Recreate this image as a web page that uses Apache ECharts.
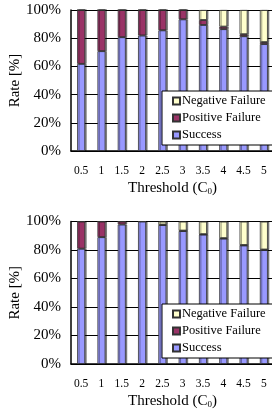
<!DOCTYPE html>
<html><head><meta charset="utf-8">
<script src="https://cdn.jsdelivr.net/npm/echarts@6/dist/echarts.min.js"></script>
<style>html,body{margin:0;padding:0;background:#fff}#c{width:272px;height:412px}</style>
</head><body><div id="c"></div>
<script>
const categories = ['0.5','1','1.5','2','2.5','3','3.5','4','4.5','5'];
const yTicks = ['0%','20%','40%','60%','80%','100%'];
// Top chart
const topSuccess = [61.8, 70.8, 80.7, 81.9, 85.6, 93.4, 89.4, 86.4, 81.4, 75.8];
const topPositive = [38.2, 29.2, 19.3, 18.1, 14.4, 6.6, 3.5, 1.8, 1.4, 1.4];
const topNegative = [0, 0, 0, 0, 0, 0, 7.1, 11.8, 17.2, 22.8];
// Bottom chart
const botSuccess = [80.9, 89.0, 97.9, 100, 97.5, 93.3, 90.8, 88.0, 83.2, 80.0];
const botPositive = [19.1, 11.0, 2.1, 0, 0.3, 0.3, 0.3, 0.3, 0.3, 0.3];
const botNegative = [0, 0, 0, 0, 2.2, 6.4, 8.9, 11.7, 16.5, 19.7];

const names = ['Success','Positive Failure','Negative Failure'];
const colors = ['#9999FF','#993366','#FFFFCC'];
const font = 'Liberation Serif';

const chart = echarts.init(document.getElementById('c'));
const grids = [
  {left:71, top:10, width:203, height:141, containLabel:false, outerBoundsMode:'none'},
  {left:71, top:221.5, width:203, height:142.5, containLabel:false, outerBoundsMode:'none'}
];
function xAx(i){return {type:'category', gridIndex:i, data:categories,
  name:'Threshold (C{s|0})', nameLocation:'middle', nameGap:29, nameMoveOverlap:false,
  nameTextStyle:{fontFamily:font, fontSize:15, color:'#000', rich:{s:{fontFamily:font,fontSize:9,verticalAlign:'bottom',padding:[7,0,0,0],color:'#000'}}},
  axisLine:{lineStyle:{color:'#000',width:1.5}},
  axisTick:{inside:true, length:3, lineStyle:{color:'#000'}},
  axisLabel:{fontFamily:font, fontSize:11.5, color:'#000', margin:14, interval:0, hideOverlap:false}};}
function yAx(i){return {type:'value', gridIndex:i, min:0, max:100, interval:20,
  name:'Rate [%]', nameLocation:'middle', nameGap:48, nameRotate:90, nameMoveOverlap:false,
  nameTextStyle:{fontFamily:font, fontSize:15, color:'#000'},
  axisLine:{show:true, lineStyle:{color:'#000',width:1.5}},
  axisTick:{show:false},
  splitLine:{lineStyle:{color:'#000',width:1}},
  axisLabel:{fontFamily:font, fontSize:15, color:'#000', margin:10,
    formatter:(v)=>yTicks[Math.round(v/20)]}};}
const data = [[topSuccess, topPositive, topNegative],[botSuccess, botPositive, botNegative]];
const series = [];
for (let g=0; g<2; g++){
  for (let k=0;k<3;k++){
    series.push({name:names[k], type:'bar', stack:'s'+g, xAxisIndex:g, yAxisIndex:g,
      barWidth:8, data:data[g][k],
      itemStyle:{color:colors[k], borderColor:'#333', borderWidth:0.8,
        shadowColor:'rgba(0,0,0,0.45)', shadowOffsetX:1.5, shadowBlur:0}});
  }
}
function leg(top){return {orient:'vertical', left:162, top:top, width:120,
  data:['Negative Failure','Positive Failure','Success'],
  itemWidth:7, itemHeight:7, itemGap:3, icon:'rect',
  backgroundColor:'#fff', borderColor:'#000', borderWidth:1,
  padding:[3,20,3,10], selectedMode:false,
  textStyle:{fontFamily:font, fontSize:12.5, lineHeight:14, color:'#000', padding:[0,0,0,-3]}};}
chart.setOption({
  animation:false,
  grid:grids,
  xAxis:[xAx(0), xAx(1)],
  yAxis:[yAx(0), yAx(1)],
  legend:[leg(91), leg(304)],
  series:series
});
</script></body></html>
